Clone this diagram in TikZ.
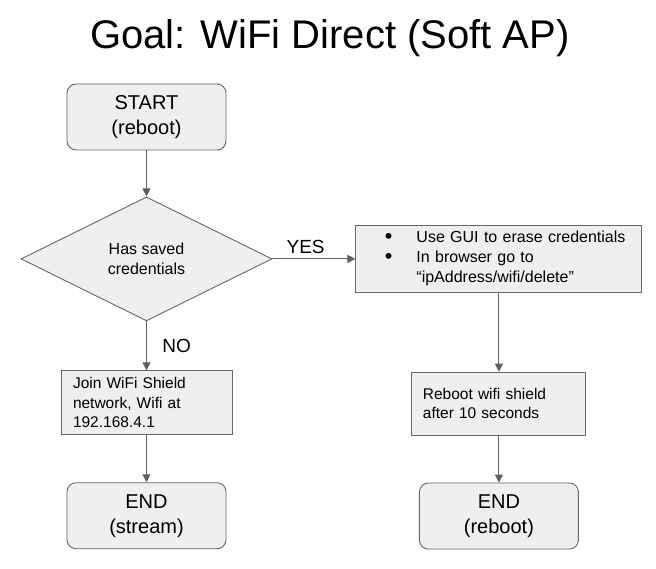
\documentclass[tikz,border=0pt]{standalone}
\usepackage{fontspec}
\setmainfont{Liberation Sans}
\usepackage{xcolor}
\usepackage{tikz}
\usetikzlibrary{shapes.geometric, arrows.meta, positioning}

\definecolor{boxfill}{HTML}{EFEFEF}
\definecolor{boxline}{HTML}{666666}
\definecolor{arrowline}{HTML}{5F5F5F}

\newcommand{\bigbullet}{\raisebox{-0.6pt}{\scalebox{1.35}{\textbullet}}}

\begin{document}
\begin{tikzpicture}[
    x=1pt, y=-1pt,
    node distance=47pt,
    termbox/.style={rectangle, draw=boxline, fill=boxfill, line width=0.9pt, rounded corners=9pt, minimum width=159pt, minimum height=66pt, align=center, font=\fontsize{20}{25}\selectfont},
    procbox/.style={rectangle, draw=boxline, fill=boxfill, line width=0.9pt, align=left, font=\fontsize{15.5}{19.5}\selectfont},
    decision/.style={diamond, aspect=2, draw=boxline, fill=boxfill, line width=0.9pt, inner sep=0pt, minimum width=251pt, minimum height=124pt, align=center, font=\fontsize{16}{20}\selectfont},
    arrow/.style={-{Triangle[length=8pt, width=8pt]}, draw=arrowline, fill=arrowline, line width=1pt},
    label/.style={font=\fontsize{19}{23}\selectfont}
]
\useasboundingbox (0,0) rectangle (656,569);

\node[font=\fontsize{40}{48}\selectfont] (title) at (330,38) {Goal: WiFi Direct (Soft AP)};

% left column
\node[termbox] (start) at (146.5,117) {START\\(reboot)};
\node[decision, below=46pt of start] (saved) {Has saved\\credentials};
\node[procbox, below=49pt of saved, minimum width=171pt, minimum height=64pt, text width=147pt, inner xsep=12pt] (join) {Join WiFi Shield\\network, Wifi at\\192.168.4.1};
\node[termbox, below=of join] (endstream) {END\\(stream)};

% right column
\node[procbox, right=83pt of saved, minimum width=286pt, minimum height=66pt, text width=286pt, inner xsep=0pt, font=\fontsize{16}{20}\selectfont] (erase) {%
  \hspace*{29pt}\begin{tabular}{@{}c@{\hspace{24pt}}l@{}}
  \bigbullet & Use GUI to erase credentials\\
  \bigbullet & In browser go to\\
   & “ipAddress/wifi/delete”
  \end{tabular}};
\node[procbox, below=79pt of erase, minimum width=174pt, minimum height=63pt, text width=152pt, inner xsep=11pt] (reboot) {Reboot wifi shield\\after 10 seconds};
\node[termbox, below=of reboot] (endreboot) {END\\(reboot)};

\draw[arrow] (start) -- (saved);
\draw[arrow] (saved.east) -- node[label, above, pos=0.4, yshift=1pt] {YES} (erase.west);
\draw[arrow] (saved.south) -- node[label, right=12pt] {NO} (join.north);
\draw[arrow] (join) -- (endstream);
\draw[arrow] (erase) -- (reboot);
\draw[arrow] (reboot) -- (endreboot);

\end{tikzpicture}
\end{document}
